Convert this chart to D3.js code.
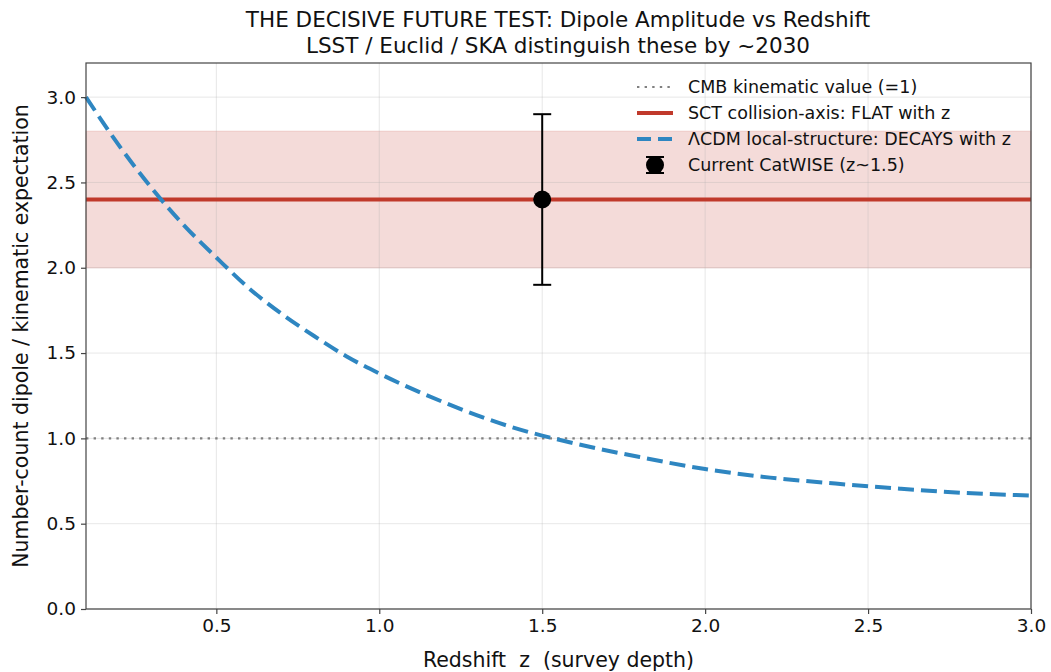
<!DOCTYPE html>
<html>
<head>
<meta charset="utf-8">
<script src="https://cdn.jsdelivr.net/npm/d3@7"></script>
<style>
  body { margin: 0; background: #fff; }
  text { font-family: "DejaVu Sans", sans-serif; fill: #111; }
</style>
</head>
<body>
<svg id="chart" width="1051" height="672"></svg>
<script>
// values
var lcdmZ   = [0.1, 0.2, 0.3, 0.4, 0.5, 0.6, 0.7, 0.8, 0.9, 1.0, 1.2, 1.4, 1.6, 1.8, 2.0, 2.2, 2.4, 2.6, 2.8, 3.0];
var lcdmAmp = [3.00, 2.72, 2.47, 2.25, 2.06, 1.88, 1.73, 1.60, 1.48, 1.38, 1.21, 1.07, 0.97, 0.89, 0.82, 0.77, 0.735, 0.705, 0.68, 0.665];
var sctLevel = 2.4, sctBand = [2.0, 2.8];
var cmbLevel = 1.0;
var catwise = { z: 1.5, amp: 2.4, lo: 1.9, hi: 2.9 };
var xTicks = [0.5, 1.0, 1.5, 2.0, 2.5, 3.0];
var yTicks = [0.0, 0.5, 1.0, 1.5, 2.0, 2.5, 3.0];
var legendLabels = ["CMB kinematic value (=1)", "SCT collision-axis: FLAT with z",
                    "\u039BCDM local-structure: DECAYS with z", "Current CatWISE (z~1.5)"];

var mL = 86, mR = 1031, mT = 63, mB = 609;
var svg = d3.select("#chart");
var x = d3.scaleLinear().domain([0.1, 3.0]).range([mL, mR]);
var y = d3.scaleLinear().domain([0, 3.2]).range([mB, mT]);

var dotted = "2.4,5.2", dashed = "16,7";

// band
svg.append("rect")
  .attr("x", mL).attr("width", mR - mL)
  .attr("y", y(sctBand[1])).attr("height", y(sctBand[0]) - y(sctBand[1]))
  .attr("fill", "rgba(192,57,43,0.18)")
  .attr("stroke", "rgba(192,57,43,0.12)").attr("stroke-width", 1.5);

// grid
var grid = svg.append("g").attr("stroke", "#b0b0b0").attr("stroke-opacity", 0.3).attr("stroke-width", 1);
xTicks.forEach(function(t) {
  grid.append("line").attr("x1", x(t)).attr("x2", x(t)).attr("y1", mT).attr("y2", mB);
});
yTicks.forEach(function(t) {
  grid.append("line").attr("y1", y(t)).attr("y2", y(t)).attr("x1", mL).attr("x2", mR);
});

var plot = svg.append("g");

// CMB dotted
plot.append("line")
  .attr("x1", mL).attr("x2", mR).attr("y1", y(cmbLevel)).attr("y2", y(cmbLevel))
  .attr("stroke", "#808080").attr("stroke-width", 2.2).attr("stroke-dasharray", dotted);

// SCT flat
plot.append("line")
  .attr("x1", mL).attr("x2", mR).attr("y1", y(sctLevel)).attr("y2", y(sctLevel))
  .attr("stroke", "#c0392b").attr("stroke-width", 4);

// LCDM decaying
var line = d3.line()
  .x(function(d, i) { return x(lcdmZ[i]); })
  .y(function(d) { return y(d); })
  .curve(d3.curveMonotoneX);
plot.append("path")
  .datum(lcdmAmp)
  .attr("d", line)
  .attr("fill", "none")
  .attr("stroke", "#2e86c1").attr("stroke-width", 4)
  .attr("stroke-dasharray", dashed);

// CatWISE point
var cx = x(catwise.z);
plot.append("line").attr("x1", cx).attr("x2", cx).attr("y1", y(catwise.lo)).attr("y2", y(catwise.hi))
  .attr("stroke", "#000").attr("stroke-width", 2);
[catwise.lo, catwise.hi].forEach(function(v) {
  plot.append("line").attr("x1", cx - 9).attr("x2", cx + 9).attr("y1", y(v)).attr("y2", y(v))
    .attr("stroke", "#000").attr("stroke-width", 2);
});
plot.append("circle").attr("cx", cx).attr("cy", y(catwise.amp)).attr("r", 9).attr("fill", "#000");

// axes
var xAxis = svg.append("g").attr("transform", "translate(0," + mB + ")")
  .call(d3.axisBottom(x).tickValues(xTicks).tickFormat(d3.format(".1f")).tickSize(5).tickPadding(5));
var yAxis = svg.append("g").attr("transform", "translate(" + mL + ",0)")
  .call(d3.axisLeft(y).tickValues(yTicks).tickFormat(d3.format(".1f")).tickSize(5).tickPadding(5));
[xAxis, yAxis].forEach(function(a) {
  a.select(".domain").remove();
  a.selectAll("line").attr("stroke", "#444").attr("stroke-width", 1.2);
  a.selectAll("text").style("font-size", "18.5px").attr("fill", "#111");
});

// frame
svg.append("rect").attr("x", mL).attr("y", mT).attr("width", mR - mL).attr("height", mB - mT)
  .attr("fill", "none").attr("stroke", "#444").attr("stroke-width", 1.2);

// labels
svg.append("text").attr("x", (mL + mR) / 2).attr("y", 667).attr("text-anchor", "middle")
  .attr("xml:space", "preserve").style("font-size", "20.5px").text("Redshift  z  (survey depth)");
svg.append("text").attr("transform", "translate(28," + ((mT + mB) / 2) + ") rotate(-90)")
  .attr("text-anchor", "middle").style("font-size", "20.5px")
  .text("Number-count dipole / kinematic expectation");
svg.append("text").attr("x", 558).attr("y", 27).attr("text-anchor", "middle").style("font-size", "21.5px")
  .text("THE DECISIVE FUTURE TEST: Dipole Amplitude vs Redshift");
svg.append("text").attr("x", 558).attr("y", 53).attr("text-anchor", "middle").style("font-size", "21.5px")
  .text("LSST / Euclid / SKA distinguish these by ~2030");

// legend
var lg = svg.append("g");
var rowY = [87, 113, 139, 165];
var hx0 = 637, hx1 = 673, tx = 688;
lg.append("line").attr("x1", hx0).attr("x2", hx1).attr("y1", rowY[0]).attr("y2", rowY[0])
  .attr("stroke", "#808080").attr("stroke-width", 2.2).attr("stroke-dasharray", dotted);
lg.append("line").attr("x1", hx0).attr("x2", hx1).attr("y1", rowY[1]).attr("y2", rowY[1])
  .attr("stroke", "#c0392b").attr("stroke-width", 4);
lg.append("line").attr("x1", hx0).attr("x2", hx1).attr("y1", rowY[2]).attr("y2", rowY[2])
  .attr("stroke", "#2e86c1").attr("stroke-width", 4).attr("stroke-dasharray", "14,7");
var mx = (hx0 + hx1) / 2;
lg.append("line").attr("x1", mx).attr("x2", mx).attr("y1", rowY[3] - 8).attr("y2", rowY[3] + 8)
  .attr("stroke", "#000").attr("stroke-width", 2);
[-8, 8].forEach(function(d) {
  lg.append("line").attr("x1", mx - 9).attr("x2", mx + 9).attr("y1", rowY[3] + d).attr("y2", rowY[3] + d)
    .attr("stroke", "#000").attr("stroke-width", 2);
});
lg.append("circle").attr("cx", mx).attr("cy", rowY[3]).attr("r", 9).attr("fill", "#000");
legendLabels.forEach(function(t, i) {
  lg.append("text").attr("x", tx).attr("y", rowY[i]).attr("dy", "0.35em")
    .style("font-size", "17.5px").text(t);
});
</script>
</body>
</html>
